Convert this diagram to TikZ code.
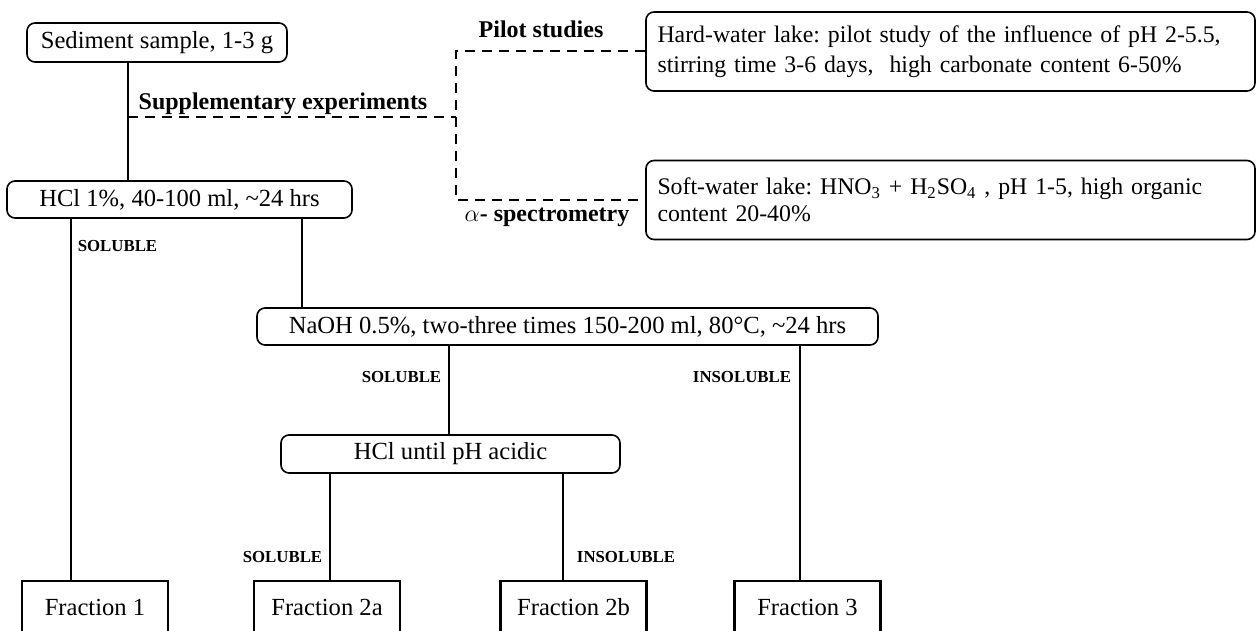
\documentclass[tikz,border=0pt]{standalone}
\usepackage{fontspec}
\setmainfont{Liberation Serif}
\frenchspacing
\begin{document}
\begin{tikzpicture}[x=.5pt,y=-.5pt,line width=1pt,
	every node/.style={font=\fontsize{12.3}{15}\selectfont,inner sep=0pt},
	stage/.style={draw,line width=.8pt,rounded corners=4pt,minimum height=18.5pt},
	fraction/.style={draw,line width=1.2pt,minimum width=73pt,minimum height=26pt},
	lake/.style={draw,line width=.8pt,rounded corners=4pt,align=left,text width=293pt,inner xsep=5.75pt,minimum height=39.5pt},
	note/.style={font=\bfseries\fontsize{12}{14}\selectfont},
	solub/.style={font=\bfseries\fontsize{8.4}{10}\selectfont},
	branch/.style={dashed,dash pattern=on 5pt off 3.5pt}]
		\clip(0,0)rectangle(1257,631);
		\coordinate(A)at(128,0);
		\coordinate(B)at(71,0);
		\coordinate(C)at(302,0);
		\coordinate(D)at(449,0);
		\coordinate(E)at(800,0);
		\coordinate(F)at(330,0);
		\coordinate(G)at(563,0);
		\coordinate(S)at(128,117);
		\coordinate(T)at(456,117);
		%extraction steps
		\node[stage,minimum width=130pt,minimum height=19.5pt](sed)at(157,42.5){Sediment sample, 1-3 g};
		\node[stage,minimum width=172.5pt](hcl)at(179.5,199.5){HCl 1\%, 40-100 ml, \textasciitilde24 hrs};
		\node[stage,minimum width=310.5pt](naoh)at(567.5,326.5){NaOH 0.5\%, two-three times 150-200 ml, 80°C, \textasciitilde24 hrs};
		\node[stage,minimum width=169.5pt,minimum height=19pt](acid)at(450.5,454){HCl until pH acidic};
		\foreach\n/\x/\t in{fr1/95/1,fr2a/327/2a,fr2b/573.5/2b,fr3/807.5/3}{\node[fraction](\n)at(\x,607){Fraction \t};}
		\foreach\p/\q/\r in{sed/hcl/A,hcl/fr1/B,hcl/naoh/C,naoh/acid/D,naoh/fr3/E,acid/fr2a/F,acid/fr2b/G}{\draw(\p.south-|\r)--(\q.north-|\r);}
		%supplementary experiments
		\node[lake,font=\fontsize{11.9}{15}\selectfont](hard)at(950.5,51.5){Hard-water lake: pilot study of the influence of pH 2-5.5,\\stirring time 3-6 days,\ \ high carbonate content 6-50\%};
		\node[lake,font=\fontsize{11.9}{13.5}\selectfont](soft)at(950.5,200){Soft-water lake: HNO\textsubscript{3} + H\textsubscript{2}SO\textsubscript{4} , pH 1-5, high organic\\content 20-40\%};
		\draw[branch](S)--(T);
		\draw[branch](hard.west)--(hard.west-|T)--(soft.west-|T)--(soft.west);
		\node[note](supp)at(283,104){Supplementary experiments};
		\node[note](pilot)at(541,29){Pilot studies};
		\node[note](alpha)at(547,217){$\alpha$- spectrometry};
		\node[solub](s1)at(117.5,246){SOLUBLE};
		\node[solub](s2)at(401.5,377){SOLUBLE};
		\node[solub](i2)at(742,377){INSOLUBLE};
		\node[solub](s3)at(282.5,557){SOLUBLE};
		\node[solub](i3)at(626,557){INSOLUBLE};
	\end{tikzpicture}
\end{document}
